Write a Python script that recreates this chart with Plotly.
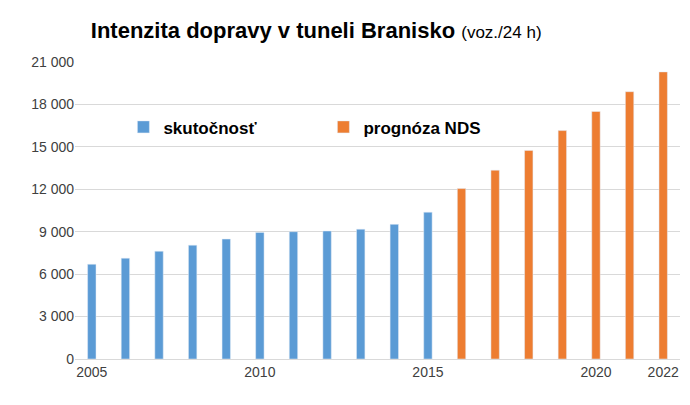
import plotly.graph_objects as go

years_actual = [2005, 2006, 2007, 2008, 2009, 2010, 2011, 2012, 2013, 2014, 2015]
values_actual = [6700, 7130, 7620, 8050, 8480, 8950, 9000, 9050, 9180, 9520, 10380]
years_forecast = [2016, 2017, 2018, 2019, 2020, 2021, 2022]
values_forecast = [12050, 13350, 14750, 16150, 17500, 18900, 20300]
y_ticks = [0, 3000, 6000, 9000, 12000, 15000, 18000, 21000]
y_labels = ["0", "3 000", "6 000", "9 000", "12 000", "15 000", "18 000", "21 000"]
x_ticks = [2005, 2010, 2015, 2020, 2022]

fig = go.Figure()
fig.add_trace(go.Bar(x=years_actual, y=values_actual, name="<b>skutočnosť</b>",
                     marker_color="#5b9bd5", width=0.25))
fig.add_trace(go.Bar(x=years_forecast, y=values_forecast, name="<b>prognóza NDS</b>",
                     marker_color="#ed7d31", width=0.25))

fig.update_layout(
    width=690, height=405,
    barmode="overlay",
    paper_bgcolor="white", plot_bgcolor="white",
    font=dict(family="Liberation Sans, Arial", size=14, color="#404040"),
    margin=dict(l=67, r=18, t=54, b=54),
    title=dict(text="<b>Intenzita dopravy v tuneli Branisko</b> <span style='font-size:17px'>(voz./24 h)</span>",
               x=0.12, xanchor="left", y=0.965, yanchor="top",
               font=dict(size=22, color="black")),
    legend=dict(orientation="h", x=0.08, y=0.78, xanchor="left", yanchor="middle",
                font=dict(size=17, color="black"), bgcolor="rgba(0,0,0,0)",
                itemwidth=30, entrywidth=155),
    xaxis=dict(tickvals=x_ticks, range=[2004.5, 2022.5], showgrid=False,
               showline=True, linecolor="#d9d9d9", ticks="", tickfont=dict(size=14)),
    yaxis=dict(tickvals=y_ticks, ticktext=y_labels, range=[0, 21000],
               gridcolor="#d9d9d9", zeroline=False, ticks="", tickfont=dict(size=14)),
)
fig.write_html("out.html")
